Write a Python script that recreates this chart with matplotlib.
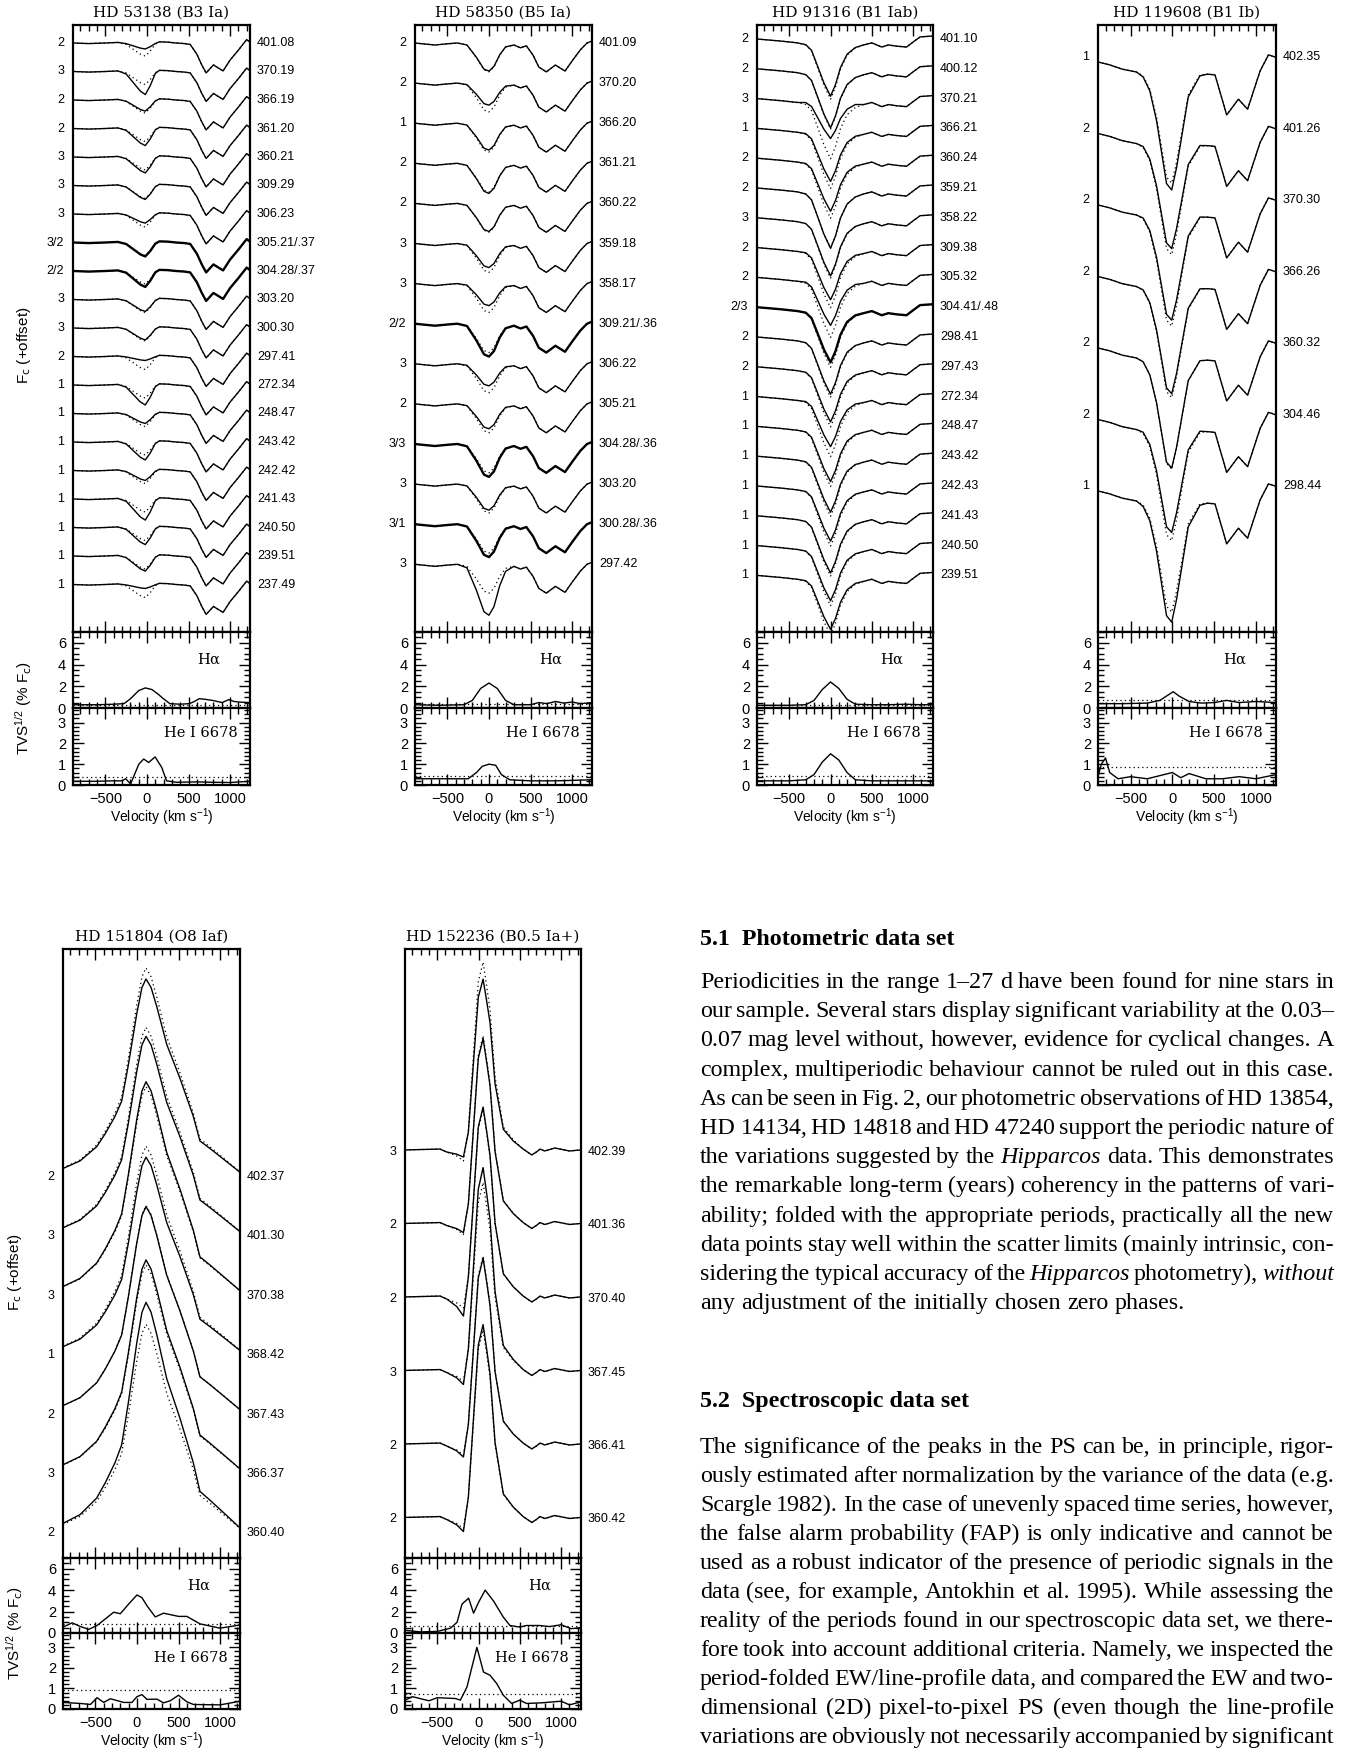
# spectra_tvs.py
# 功能：重绘六颗超巨星的 He I / Hα 谱线轮廓叠图与 TVS 面板，以及右侧正文
# 实现原理：
# 1. 每颗星给出平均轮廓（虚线）的速度节点和流量
# 2. 每条观测谱给出线心的观测值，按平均轮廓缩放得到实线
# 3. 下方两个小面板画 Hα 与 He I 6678 的 TVS^{1/2}

import numpy as np
import matplotlib
matplotlib.use('Agg')
import matplotlib.pyplot as plt
from matplotlib.ticker import MultipleLocator, NullLocator

plt.rcParams['font.family'] = ['Liberation Sans', 'DejaVu Sans']
plt.rcParams['mathtext.default'] = 'regular'

# ================= 数据 =================
# HD 53138 (B3 Ia)
hd53138_date = ['401.08', '370.19', '366.19', '361.20', '360.21', '309.29', '306.23',
                '305.21/.37', '304.28/.37', '303.20', '300.30', '297.41', '272.34',
                '248.47', '243.42', '242.42', '241.43', '240.50', '239.51', '237.49']
hd53138_nspec = ['2', '3', '2', '2', '3', '3', '3', '3/2', '2/2', '3', '3', '2', '1',
                 '1', '1', '1', '1', '1', '1', '1']
hd53138_vel = [-890, -700, -500, -350, -250, -150, -80, -20, 40, 100, 150, 250, 350,
               450, 520, 600, 660, 712, 800, 916, 1000, 1100, 1200, 1240]
hd53138_mean = [1.000, 0.998, 1.000, 1.002, 0.995, 0.975, 0.961, 0.954, 0.972, 0.996,
                1.004, 1.003, 1.000, 0.998, 0.995, 0.961, 0.923, 0.895, 0.923, 0.902,
                0.940, 0.975, 1.012, 1.003]
hd53138_core = [0.979, 0.919, 0.961, 0.940, 0.944, 0.951, 0.968, 0.951, 0.944, 0.958,
                0.958, 0.986, 0.930, 0.965, 0.937, 0.965, 0.926, 0.940, 0.947, 0.986]
hd53138_ha_vel = [-890, -866, -600, -400, -276, -197, -100, -20, 60, 130, 197, 276, 400,
                  512, 570, 630, 700, 787, 905, 984, 1050, 1102, 1240]
hd53138_ha_tvs = [0.3, 0.3, 0.3, 0.35, 0.4, 0.86, 1.6, 1.85, 1.7, 1.3, 0.86, 0.4, 0.35,
                  0.4, 0.6, 0.86, 0.8, 0.7, 0.5, 0.77, 0.6, 0.55, 0.5]
hd53138_ha_sig = 0.3
hd53138_he_vel = [-890, -600, -400, -300, -256, -197, -98, -39, 20, 98, 177, 236, 354,
                  600, 800, 1000, 1240]
hd53138_he_tvs = [0.18, 0.18, 0.2, 0.2, 0.3, 0.05, 1.0, 1.25, 1.08, 1.35, 0.85, 0.2,
                  0.13, 0.15, 0.13, 0.12, 0.18]
hd53138_he_sig = 0.37

# HD 58350 (B5 Ia)
hd58350_date = ['401.09', '370.20', '366.20', '361.21', '360.22', '359.18', '358.17',
                '309.21/.36', '306.22', '305.21', '304.28/.36', '303.20', '300.28/.36',
                '297.42']
hd58350_nspec = ['2', '2', '1', '2', '2', '3', '3', '2/2', '3', '2', '3/3', '3', '3/1', '3']
hd58350_vel = [-890, -800, -650, -500, -380, -265, -150, -60, 0, 60, 130, 200, 300, 380,
               450, 530, 600, 690, 800, 915, 1000, 1100, 1180, 1240]
hd58350_mean = [1.000, 0.998, 0.995, 0.998, 1.000, 0.995, 0.963, 0.933, 0.928, 0.940,
                0.970, 0.990, 0.995, 0.988, 0.993, 0.970, 0.940, 0.928, 0.945, 0.930,
                0.955, 0.983, 1.000, 1.005]
hd58350_core = [0.930, 0.945, 0.933, 0.925, 0.930, 0.940, 0.945, 0.918, 0.945, 0.938,
                0.918, 0.935, 0.918, 0.873]
hd58350_ha_vel = [-890, -600, -300, -200, -100, 0, 100, 200, 300, 500, 600, 700, 800,
                  900, 1000, 1100, 1240]
hd58350_ha_tvs = [0.3, 0.25, 0.3, 0.7, 1.8, 2.3, 1.8, 0.7, 0.3, 0.3, 0.5, 0.4, 0.6,
                  0.45, 0.55, 0.4, 0.5]
hd58350_ha_sig = 0.35
hd58350_he_vel = [-890, -500, -250, -150, -80, 0, 80, 150, 250, 500, 800, 1240]
hd58350_he_tvs = [0.3, 0.3, 0.3, 0.6, 0.9, 1.0, 0.95, 0.5, 0.25, 0.2, 0.2, 0.25]
hd58350_he_sig = 0.45

# HD 91316 (B1 Iab)
hd91316_date = ['401.10', '400.12', '370.21', '366.21', '360.24', '359.21', '358.22',
                '309.38', '305.32', '304.41/.48', '298.41', '297.43', '272.34', '248.47',
                '243.42', '242.43', '241.43', '240.50', '239.51']
hd91316_nspec = ['2', '2', '3', '1', '2', '2', '3', '2', '2', '2/3', '2', '2', '1', '1',
                 '1', '1', '1', '1', '1']
hd91316_vel = [-890, -600, -400, -300, -230, -150, -80, 0, 60, 120, 200, 300, 400, 500,
               620, 700, 800, 920, 1000, 1084, 1240]
hd91316_mean = [1.000, 0.993, 0.987, 0.980, 0.960, 0.899, 0.845, 0.798, 0.839, 0.899,
                0.946, 0.970, 0.980, 0.987, 0.973, 0.980, 0.976, 0.973, 0.990, 1.007,
                1.010]
hd91316_core = [0.808, 0.802, 0.866, 0.822, 0.822, 0.798, 0.805, 0.825, 0.839, 0.815,
                0.808, 0.815, 0.832, 0.815, 0.812, 0.815, 0.808, 0.815, 0.819]
hd91316_ha_vel = [-890, -500, -300, -200, -100, 0, 100, 200, 300, 500, 700, 900, 1100, 1240]
hd91316_ha_tvs = [0.25, 0.25, 0.3, 0.7, 1.7, 2.4, 1.8, 0.8, 0.35, 0.3, 0.3, 0.35, 0.3, 0.3]
hd91316_ha_sig = 0.3
hd91316_he_vel = [-890, -500, -300, -200, -100, 0, 100, 200, 300, 500, 800, 1240]
hd91316_he_tvs = [0.2, 0.2, 0.25, 0.5, 1.1, 1.5, 1.2, 0.6, 0.25, 0.2, 0.2, 0.2]
hd91316_he_sig = 0.45

# HD 119608 (B1 Ib)
hd119608_date = ['402.35', '401.26', '370.30', '366.26', '360.32', '304.46', '298.44']
hd119608_nspec = ['1', '2', '2', '2', '2', '2', '1']
hd119608_vel = [-890, -750, -600, -430, -350, -270, -190, -70, -8, 50, 190, 330, 420,
                510, 650, 790, 900, 1050, 1150, 1228, 1240]
hd119608_mean = [0.986, 0.978, 0.966, 0.958, 0.947, 0.910, 0.832, 0.664, 0.647, 0.706,
                 0.894, 0.950, 0.952, 0.950, 0.838, 0.882, 0.854, 0.961, 1.006, 1.000,
                 0.997]
hd119608_core = [0.628, 0.664, 0.664, 0.658, 0.650, 0.670, 0.619]
hd119608_ha_vel = [-890, -600, -300, -150, -50, 10, 80, 200, 350, 500, 650, 800, 1000, 1240]
hd119608_ha_tvs = [0.4, 0.4, 0.45, 0.7, 1.2, 1.5, 1.1, 0.6, 0.45, 0.5, 0.7, 0.5, 0.6, 0.5]
hd119608_ha_sig = 0.75
hd119608_he_vel = [-890, -850, -800, -750, -650, -500, -300, -100, 0, 100, 200, 400, 600,
                   800, 1000, 1240]
hd119608_he_tvs = [0.4, 1.0, 1.3, 0.6, 0.3, 0.4, 0.3, 0.5, 0.6, 0.35, 0.55, 0.3, 0.3,
                   0.4, 0.3, 0.5]
hd119608_he_sig = 0.85

# HD 151804 (O8 Iaf)
hd151804_date = ['402.37', '401.30', '370.38', '368.42', '367.43', '366.37', '360.40']
hd151804_nspec = ['2', '3', '3', '1', '2', '3', '2']
hd151804_vel = [-890, -685, -485, -380, -264, -184, -104, -3, 60, 109, 170, 238, 358,
                518, 678, 758, 879, 1039, 1240]
hd151804_mean = [1.076, 1.143, 1.269, 1.387, 1.539, 1.674, 1.994, 2.448, 2.684, 2.760,
                 2.684, 2.516, 2.179, 1.876, 1.539, 1.320, 1.253, 1.160, 1.042]
hd151804_peak = [2.667, 2.684, 2.802, 2.667, 2.751, 2.802, 2.945]
hd151804_ha_vel = [-890, -780, -680, -580, -480, -280, -200, -100, 0, 60, 120, 220, 320,
                   500, 600, 760, 1000, 1240]
hd151804_ha_tvs = [0.55, 0.95, 0.6, 0.34, 0.7, 1.94, 1.8, 2.7, 3.55, 3.3, 2.55, 1.5,
                   1.85, 1.55, 1.55, 0.85, 0.45, 0.75]
hd151804_ha_sig = 0.85
hd151804_he_vel = [-890, -680, -560, -480, -400, -320, -160, -60, 0, 60, 120, 240, 320,
                   400, 500, 600, 680, 1000, 1240]
hd151804_he_tvs = [0.32, 0.27, 0.22, 0.55, 0.32, 0.5, 0.32, 0.32, 0.6, 0.7, 0.47, 0.48,
                   0.3, 0.4, 0.67, 0.35, 0.22, 0.2, 0.38]
hd151804_he_sig = 0.92

# HD 152236 (B0.5 Ia+)
hd152236_date = ['402.39', '401.36', '370.40', '367.45', '366.41', '360.42']
hd152236_nspec = ['3', '2', '2', '3', '2', '2']
hd152236_vel = [-890, -466, -385, -264, -183, -123, -3, 55, 100, 139, 200, 300, 421,
                540, 644, 700, 745, 800, 846, 920, 987, 1100, 1240]
hd152236_mean = [1.014, 1.020, 1.000, 0.973, 0.939, 1.150, 2.156, 2.292, 2.122, 1.966,
                 1.510, 1.170, 1.082, 1.020, 0.980, 1.000, 1.020, 1.007, 1.014, 1.027,
                 1.020, 1.007, 1.014]
hd152236_peak = [2.176, 2.272, 2.306, 2.394, 2.278, 2.326]
hd152236_dip = [0.966, 0.952, 0.884, 0.918, 0.925, 0.918]
hd152236_ha_vel = [-890, -700, -500, -340, -260, -200, -120, -60, 0, 80, 180, 300, 380,
                   500, 580, 740, 860, 1000, 1120, 1240]
hd152236_ha_tvs = [0.25, 0.1, 0.15, 0.45, 1.0, 2.7, 3.25, 1.85, 2.86, 4.0, 3.0, 1.48,
                   0.7, 0.55, 0.7, 0.7, 0.6, 0.77, 0.4, 0.5]
hd152236_ha_sig = 0.7
hd152236_he_vel = [-890, -800, -600, -500, -280, -220, -140, -80, -20, 60, 140, 220, 300,
                   400, 500, 580, 760, 1000, 1100, 1240]
hd152236_he_tvs = [0.43, 0.6, 0.4, 0.55, 0.51, 0.43, 1.07, 2.04, 3.0, 1.8, 1.64, 1.24,
                   0.67, 0.27, 0.43, 0.27, 0.3, 0.38, 0.2, 0.35]
hd152236_he_sig = 0.75

# 正文
para1 = [
    "Periodicities in the range 1\u201327 d have been found for nine stars in",
    "our sample. Several stars display significant variability at the 0.03\u2013",
    "0.07 mag level without, however, evidence for cyclical changes. A",
    "complex, multiperiodic behaviour cannot be ruled out in this case.",
    "As can be seen in Fig. 2, our photometric observations of HD\u00a013854,",
    "HD\u00a014134, HD\u00a014818 and HD\u00a047240 support the periodic nature of",
    "the variations suggested by the *Hipparcos* data. This demonstrates",
    "the remarkable long-term (years) coherency in the patterns of vari-",
    "ability; folded with the appropriate periods, practically all the new",
    "data points stay well within the scatter limits (mainly intrinsic, con-",
    "sidering the typical accuracy of the *Hipparcos* photometry), *without*",
    "any adjustment of the initially chosen zero phases.",
]
para2 = [
    "The significance of the peaks in the PS can be, in principle, rigor-",
    "ously estimated after normalization by the variance of the data (e.g.",
    "Scargle 1982). In the case of unevenly spaced time series, however,",
    "the false alarm probability (FAP) is only indicative and cannot be",
    "used as a robust indicator of the presence of periodic signals in the",
    "data (see, for example, Antokhin et al. 1995). While assessing the",
    "reality of the periods found in our spectroscopic data set, we there-",
    "fore took into account additional criteria. Namely, we inspected the",
    "period-folded EW/line-profile data, and compared the EW and two-",
    "dimensional (2D) pixel-to-pixel PS (even though the line-profile",
    "variations are obviously not necessarily accompanied by significant",
]

# ================= 画图 =================
W, H = 1347, 1750
VMIN, VMAX = -890, 1240
fig = plt.figure(figsize=(W / 100, H / 100), dpi=100)
fig.patch.set_facecolor('white')


def px_axes(x0, x1, y0, y1):
    """按像素位置建坐标轴"""
    return fig.add_axes([x0 / W, 1 - y1 / H, (x1 - x0) / W, (y1 - y0) / H])


def px_text(x, y, s, **kw):
    return fig.text(x / W, 1 - y / H, s, **kw)


def observed(vel, mean, value, lo, hi):
    """把平均轮廓在线心区域缩放到观测值"""
    vel = np.asarray(vel, float)
    dev = np.asarray(mean, float) - 1.0
    zone = (vel >= lo) & (vel <= hi)
    k = np.argmax(np.abs(dev) * zone)
    sel = zone & (np.sign(dev) == np.sign(dev[k]))
    out = dev.copy()
    out[sel] *= (value - 1.0) / dev[k]
    return 1.0 + out


def style_axis(ax, xlabels=False):
    ax.set_xlim(VMIN, VMAX)
    ax.xaxis.set_major_locator(MultipleLocator(500))
    ax.xaxis.set_minor_locator(MultipleLocator(100))
    ax.tick_params(which='both', direction='in', top=True, right=True, width=1.0,
                   labelsize=10.5, pad=5)
    ax.tick_params(which='major', length=8)
    ax.tick_params(which='minor', length=4)
    for s in ax.spines.values():
        s.set_linewidth(1.6)
    if not xlabels:
        ax.tick_params(labelbottom=False)


def draw_star(lay, title, dates, nspec, vel, profiles, mean, step, ha, he):
    x0, x1, top, sbot, hbot, ebot, first_px, step_px = lay

    # 谱线叠图
    ax = px_axes(x0, x1, top, sbot)
    style_axis(ax)
    ax.yaxis.set_major_locator(NullLocator())
    ax.yaxis.set_minor_locator(NullLocator())
    ypx = lambda p: 1 - (p - first_px) / step_px * step
    ax.set_ylim(ypx(sbot), ypx(top))
    for i, prof in enumerate(profiles):
        off = -i * step
        ax.plot(vel, np.asarray(mean) + off, color='k', lw=0.9, ls=(0, (1, 2.5)))
        lw = 1.7 if '/' in nspec[i] else 1.0
        ax.plot(vel, prof + off, color='k', lw=lw)
        ax.annotate(nspec[i], xy=(0, 1 + off), xycoords=('axes fraction', 'data'),
                    xytext=(-9, 0), textcoords='offset pixels', ha='right', va='center',
                    fontsize=9, annotation_clip=False)
        ax.annotate(dates[i], xy=(1, 1 + off), xycoords=('axes fraction', 'data'),
                    xytext=(7, 0), textcoords='offset pixels', ha='left', va='center',
                    fontsize=9, annotation_clip=False)
    px_text((x0 + x1) / 2, top - 12, title, ha='center', va='center',
            fontsize=11, family='DejaVu Serif')

    # Hα TVS
    axh = px_axes(x0, x1, sbot, hbot)
    style_axis(axh)
    axh.set_ylim(0, 7.0)
    axh.yaxis.set_major_locator(MultipleLocator(2))
    axh.yaxis.set_minor_locator(MultipleLocator(0.5))
    axh.plot(ha[0], ha[1], color='k', lw=1.0)
    axh.axhline(ha[2], color='k', lw=0.9, ls=(0, (1, 2.5)))
    axh.text(0.77, 4.45, r'H$\alpha$', transform=axh.get_yaxis_transform(),
             ha='center', va='center', fontsize=10.5, family='DejaVu Serif')

    # He I 6678 TVS
    axe = px_axes(x0, x1, hbot, ebot)
    style_axis(axe, xlabels=True)
    axe.set_ylim(0, 3.7)
    axe.yaxis.set_major_locator(MultipleLocator(1))
    axe.yaxis.set_minor_locator(MultipleLocator(0.2))
    axe.plot(he[0], he[1], color='k', lw=1.0)
    axe.axhline(he[2], color='k', lw=0.9, ls=(0, (1, 2.5)))
    axe.text(0.72, 2.48, 'He I 6678', transform=axe.get_yaxis_transform(),
             ha='center', va='center', fontsize=10.5, family='DejaVu Serif')
    px_text((x0 + x1) / 2, ebot + 32, r'Velocity (km s$^{-1}$)', ha='center',
            va='center', fontsize=10)


# 面板位置（像素）：x0, x1, 顶, 谱图底, Hα底, He底, 第一条谱位置, 谱间距

# HD 53138
p = [observed(hd53138_vel, hd53138_mean, c, -300, 120) for c in hd53138_core]
draw_star((73, 250, 25, 632, 708, 785, 43, 28.5), 'HD 53138 (B3 Ia)', hd53138_date,
          hd53138_nspec, hd53138_vel, p, hd53138_mean, 0.1,
          (hd53138_ha_vel, hd53138_ha_tvs, hd53138_ha_sig),
          (hd53138_he_vel, hd53138_he_tvs, hd53138_he_sig))

# HD 58350
p = [observed(hd58350_vel, hd58350_mean, c, -300, 250) for c in hd58350_core]
draw_star((415, 592, 25, 632, 708, 785, 43, 40.1), 'HD 58350 (B5 Ia)', hd58350_date,
          hd58350_nspec, hd58350_vel, p, hd58350_mean, 0.1,
          (hd58350_ha_vel, hd58350_ha_tvs, hd58350_ha_sig),
          (hd58350_he_vel, hd58350_he_tvs, hd58350_he_sig))

# HD 91316
p = [observed(hd91316_vel, hd91316_mean, c, -300, 300) for c in hd91316_core]
draw_star((757, 933, 25, 632, 708, 785, 39, 29.8), 'HD 91316 (B1 Iab)', hd91316_date,
          hd91316_nspec, hd91316_vel, p, hd91316_mean, 0.1,
          (hd91316_ha_vel, hd91316_ha_tvs, hd91316_ha_sig),
          (hd91316_he_vel, hd91316_he_tvs, hd91316_he_sig))

# HD 119608
p = [observed(hd119608_vel, hd119608_mean, c, -350, 330) for c in hd119608_core]
draw_star((1098, 1276, 25, 632, 708, 785, 57, 71.5), 'HD 119608 (B1 Ib)', hd119608_date,
          hd119608_nspec, hd119608_vel, p, hd119608_mean, 0.2,
          (hd119608_ha_vel, hd119608_ha_tvs, hd119608_ha_sig),
          (hd119608_he_vel, hd119608_he_tvs, hd119608_he_sig))

# HD 151804
p = [observed(hd151804_vel, hd151804_mean, c, -900, 1250) for c in hd151804_peak]
draw_star((63, 240, 949, 1558, 1633, 1709, 1177, 59.4), 'HD 151804 (O8 Iaf)',
          hd151804_date, hd151804_nspec, hd151804_vel, p, hd151804_mean, 0.5,
          (hd151804_ha_vel, hd151804_ha_tvs, hd151804_ha_sig),
          (hd151804_he_vel, hd151804_he_tvs, hd151804_he_sig))

# HD 152236
p = []
for c, d in zip(hd152236_peak, hd152236_dip):
    prof = observed(hd152236_vel, hd152236_mean, c, -150, 450)
    p.append(observed(hd152236_vel, prof, d, -300, -140))
draw_star((405, 581, 949, 1558, 1633, 1709, 1152, 73.5), 'HD 152236 (B0.5 Ia+)',
          hd152236_date, hd152236_nspec, hd152236_vel, p, hd152236_mean, 0.5,
          (hd152236_ha_vel, hd152236_ha_tvs, hd152236_ha_sig),
          (hd152236_he_vel, hd152236_he_tvs, hd152236_he_sig))

# 纵轴标题
for x, yf, yt in [(24, 345, 708), (15, 1272, 1633)]:
    px_text(x, yf, r'F$_{\rm c}$ (+offset)', rotation=90, ha='center', va='center',
            fontsize=11)
    px_text(x, yt, r'TVS$^{1/2}$ (% F$_{\rm c}$)', rotation=90, ha='center',
            va='center', fontsize=11)

# ================= 正文（两端对齐） =================
renderer = fig.canvas.get_renderer()
SERIF = 'Liberation Serif'
TX0, TX1 = 700, 1334


def words_of(line):
    out = []
    for w in line.split(' '):
        out.append((w.replace('*', ''), 'italic' if '*' in w else 'normal'))
    return out


def text_width(s, size, style='normal', weight='normal'):
    t = fig.text(0, 0, s, fontsize=size, family=SERIF, style=style, weight=weight)
    w = t.get_window_extent(renderer).width
    t.remove()
    return w


# 选一个字号，使最挤的一行仍留有词间距
ref = 10.0
widths = []
for line in para1[:-1] + para2:
    ws = words_of(line)
    widths.append((sum(text_width(w, ref, st) for w, st in ws), len(ws)))
size = 22.0
while size > 8:
    ok = all((TX1 - TX0 - sw * size / ref) / (n - 1) >= 0.15 * size * 100 / 72
             for sw, n in widths)
    if ok:
        break
    size -= 0.05


def put_line(line, y, justify=True):
    ws = words_of(line)
    wl = [text_width(w, size, st) for w, st in ws]
    if justify and len(ws) > 1:
        gap = (TX1 - TX0 - sum(wl)) / (len(ws) - 1)
    else:
        gap = 0.25 * size * 100 / 72
    x = TX0
    for (w, st), wd in zip(ws, wl):
        px_text(x, y, w, ha='left', va='baseline', fontsize=size, family=SERIF, style=st)
        x += wd + gap


px_text(TX0, 945, '5.1  Photometric data set', ha='left', va='baseline', fontsize=size,
        family=SERIF, weight='bold')
for i, line in enumerate(para1):
    put_line(line, 988 + i * 29.2, justify=(i < len(para1) - 1))

px_text(TX0, 1407, '5.2  Spectroscopic data set', ha='left', va='baseline', fontsize=size,
        family=SERIF, weight='bold')
for i, line in enumerate(para2):
    put_line(line, 1453 + i * 29.0)

fig.savefig('out.png', dpi=100, facecolor='white')
